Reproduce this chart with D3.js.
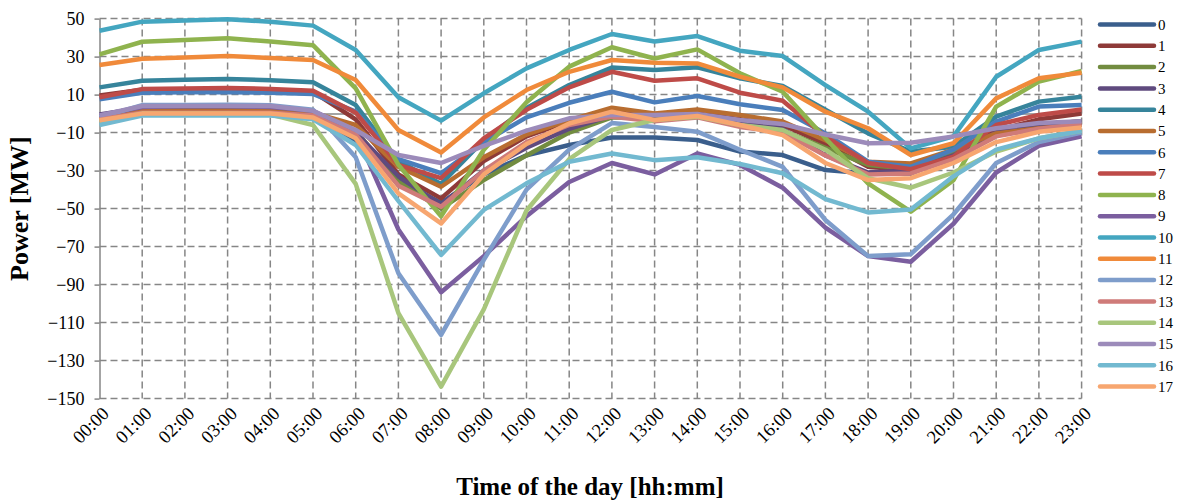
<!DOCTYPE html>
<html>
<head>
<meta charset="utf-8">
<script src="https://cdn.jsdelivr.net/npm/d3@7"></script>
<style>
  body { margin: 0; background: #fff; }
  svg { display: block; font-family: "Liberation Serif", "Times New Roman", serif; }
</style>
</head>
<body>
<svg></svg>
<script>
const width = 1180;
const height = 503;

// hours of the day
const hours = ["00:00", "01:00", "02:00", "03:00", "04:00", "05:00", "06:00", "07:00",
  "08:00", "09:00", "10:00", "11:00", "12:00", "13:00", "14:00", "15:00",
  "16:00", "17:00", "18:00", "19:00", "20:00", "21:00", "22:00", "23:00"];

// y axis ticks
const yTicks = [50, 30, 10, -10, -30, -50, -70, -90, -110, -130, -150];

// series names
const names = ["0", "1", "2", "3", "4", "5", "6", "7", "8", "9",
  "10", "11", "12", "13", "14", "15", "16", "17"];

// power per hour [MW]
const s0 = [-2, 1, 1, 1, 1, -2, -14, -35, -47, -32, -22, -16.5, -12.6, -12.6, -13.9, -20, -21.8, -29.7, -31.5, -31.5, -22.6, -11, -7, -5];
const s1 = [9.5, 12.5, 12.5, 12.8, 12.5, 11.5, -3, -32, -44.6, -25, -12, -4, 2, -1, 0, -3, -6, -16, -28, -30, -21, -9, -3, 0];
const s2 = [-1.5, 1, 1, 1, 1, -1, -9, -36, -50, -35, -22, -10, -2, -2, -1, -5, -9, -18, -27, -29, -21, -11, -6, -4];
const s3 = [-0.5, 3, 3, 3, 3, 1, -10, -33, -48, -30, -18, -8, -1, -3, -1, -4, -8, -22, -31, -30, -22, -10, -6, -4];
const s4 = [13.8, 17.3, 17.8, 18.2, 17.6, 16.5, 4.5, -25, -37, -14, 3, 15, 24.2, 23, 24.4, 18.6, 14.5, 2, -10.4, -20, -17.4, -1.6, 6.3, 8.9];
const s5 = [-1, 1.5, 1.5, 1.5, 1.5, 0.5, -6, -28, -38.5, -23, -11, -3.4, 3.1, 0.1, 2.2, -0.7, -4.2, -14, -25.3, -26.2, -19, -10.4, -7.7, -6];
const s6 = [7.5, 11, 11.2, 11.3, 11, 10.3, 1, -24, -31.4, -15, -2, 5.7, 11.5, 5.9, 9.3, 4.9, 1.9, -10.4, -25.3, -28, -19, -4.2, 3.7, 4.5];
const s7 = [8.6, 12.9, 13.2, 13.5, 13, 12, 0.5, -27, -34, -13, 2, 13.8, 22, 17.3, 18.6, 11, 6.8, -12, -26, -29.3, -22.6, -6, -0.7, 2.2];
const s8 = [31.2, 37.8, 38.7, 39.6, 38, 36, 13.3, -27, -54, -19, 6, 24.7, 34.9, 29, 33.8, 21.2, 11.5, -13, -36.7, -51.6, -35, 3.7, 16.8, 22.4];
const s9 = [-1, 3.5, 4, 4, 3.5, 1.5, -10, -61, -94, -75, -54, -36, -26, -32, -21, -27, -39, -60, -75, -78, -58, -31, -17, -12];
const s10 = [43.6, 48.4, 49, 49.6, 48.4, 46.3, 33.5, 8.6, -3.7, 10.7, 23.8, 33.5, 41.9, 37.9, 40.8, 33.1, 30.3, 15, 1, -18.3, -12, 19.4, 33.5, 37.9];
const s11 = [25.6, 28.9, 29.5, 30.3, 29.3, 28.2, 17.7, -8.6, -20.5, -2, 12.4, 22, 28.2, 26.8, 26.4, 19.4, 13.8, 1, -7.7, -21.8, -15.6, 8, 18.6, 21.5];
const s12 = [-2, 4.5, 4.5, 4.6, 4.4, 2, -23, -84, -116.5, -77, -40, -19, -5, -7, -9.5, -19, -28, -56, -75, -74, -53, -26, -15, -10];
const s13 = [-3, 0.5, 0.5, 0.5, 0.5, -1, -11, -38, -49, -30, -15, -6, -1.6, -4, -2, -7, -10, -22, -32, -31.5, -24, -12, -8, -5.5];
const s14 = [-4, 0, 0, 0, -0.5, -6, -37, -105, -143.7, -103, -51, -24, -8.6, -3.4, -1.6, -6, -8.6, -19, -34, -39, -31, -20, -13, -9];
const s15 = [-1, 4, 4, 4, 4, 1.5, -8.6, -21.8, -26, -17, -9, -2.5, -0.7, -0.7, -0.2, -3.4, -5.5, -11, -15.6, -15.3, -12, -7.7, -5, -4];
const s16 = [-6, -1, -1, -1, -1, -3, -16.5, -46, -74.4, -50.7, -36.7, -25.3, -21, -24.5, -23, -26.5, -31.4, -45, -52, -50.5, -33, -19, -13, -9];
const s17 = [-3.5, 0, 0, 0, 0, -2, -13, -42, -57.8, -32, -16, -5.2, 1, -3.4, -1.3, -6, -11.3, -26, -35, -34, -26, -15, -9.6, -7.3];

const colors = ["#3A5E8C", "#8E3A38", "#728C40", "#5F4A7E", "#36849B", "#B86D30",
  "#4A7EBB", "#BE4B48", "#8FB34E", "#7B5E9F", "#44A6C0", "#F08A3A",
  "#7E9DCB", "#CF7B79", "#A8C67C", "#9C8BBA", "#72B9D0", "#F7A670"];

const seriesData = [s0, s1, s2, s3, s4, s5, s6, s7, s8, s9, s10, s11, s12, s13, s14, s15, s16, s17];

const svg = d3.select("svg")
  .attr("width", width)
  .attr("height", height);

// scales
const x = d3.scalePoint()
  .domain(hours)
  .range([99.5, 1081.6]);

const y = d3.scaleLinear()
  .domain([-150, 50])
  .range([398.6, 18.6]);

const grid = svg.append("g").attr("class", "grid");

// horizontal dashed gridlines
grid.selectAll("line.h")
  .data(yTicks)
  .enter().append("line")
  .attr("class", "h")
  .attr("x1", x.range()[0])
  .attr("x2", x.range()[1])
  .attr("y1", d => y(d))
  .attr("y2", d => y(d))
  .attr("stroke", "#868686")
  .attr("stroke-width", 1.5)
  .attr("stroke-dasharray", "7,4");

// vertical dashed gridlines
grid.selectAll("line.v")
  .data(hours.slice(1))
  .enter().append("line")
  .attr("class", "v")
  .attr("x1", d => x(d))
  .attr("x2", d => x(d))
  .attr("y1", y(50))
  .attr("y2", y(-150))
  .attr("stroke", "#868686")
  .attr("stroke-width", 1.5)
  .attr("stroke-dasharray", "7,4");

// zero line (category axis)
svg.append("g")
  .attr("transform", "translate(0," + y(0) + ")")
  .call(d3.axisBottom(x).tickSize(0).tickFormat(""))
  .call(g => g.select(".domain").attr("stroke", "#868686").attr("stroke-width", 1.5));

// y axis
const yAxis = svg.append("g")
  .attr("transform", "translate(" + x.range()[0] + ",0)")
  .call(d3.axisLeft(y).tickValues(yTicks).tickSize(5).tickPadding(10).tickSizeOuter(0));
yAxis.select(".domain").attr("stroke", "#868686").attr("stroke-width", 1.5);
yAxis.selectAll(".tick line").attr("stroke", "#868686").attr("stroke-width", 1.5);
yAxis.selectAll(".tick text")
  .attr("font-family", "Liberation Serif")
  .attr("font-size", 18)
  .attr("fill", "#000");

// x tick labels, rotated
svg.append("g")
  .selectAll("text")
  .data(hours)
  .enter().append("text")
  .attr("transform", d => "translate(" + (x(d) + 6) + "," + 410 + ") rotate(-45)")
  .attr("text-anchor", "end")
  .attr("dy", "0.35em")
  .attr("font-size", 18.5)
  .text(d => d);

// lines
const line = d3.line()
  .x((d, i) => x(hours[i]))
  .y(d => y(d));

svg.append("g")
  .selectAll("path")
  .data(seriesData)
  .enter().append("path")
  .attr("d", d => line(d))
  .attr("fill", "none")
  .attr("stroke", (d, i) => colors[i])
  .attr("stroke-width", 4.5)
  .attr("stroke-linejoin", "round");

// legend
const legend = svg.append("g")
  .selectAll("g")
  .data(names)
  .enter().append("g")
  .attr("transform", (d, i) => "translate(1100," + (24.5 + i * 21.3) + ")");

legend.append("line")
  .attr("x1", 0)
  .attr("x2", 54)
  .attr("stroke", (d, i) => colors[i])
  .attr("stroke-width", 4.5)
  .attr("stroke-linecap", "round");

legend.append("text")
  .attr("x", 58)
  .attr("dy", "0.35em")
  .attr("font-size", 15)
  .text(d => d);

// axis titles
svg.append("text")
  .attr("transform", "translate(28," + y(-50) + ") rotate(-90)")
  .attr("text-anchor", "middle")
  .attr("font-size", 26)
  .attr("font-weight", "bold")
  .text("Power [MW]");

svg.append("text")
  .attr("x", 590)
  .attr("y", 495)
  .attr("text-anchor", "middle")
  .attr("font-size", 25)
  .attr("font-weight", "bold")
  .text("Time of the day [hh:mm]");
</script>
</body>
</html>
